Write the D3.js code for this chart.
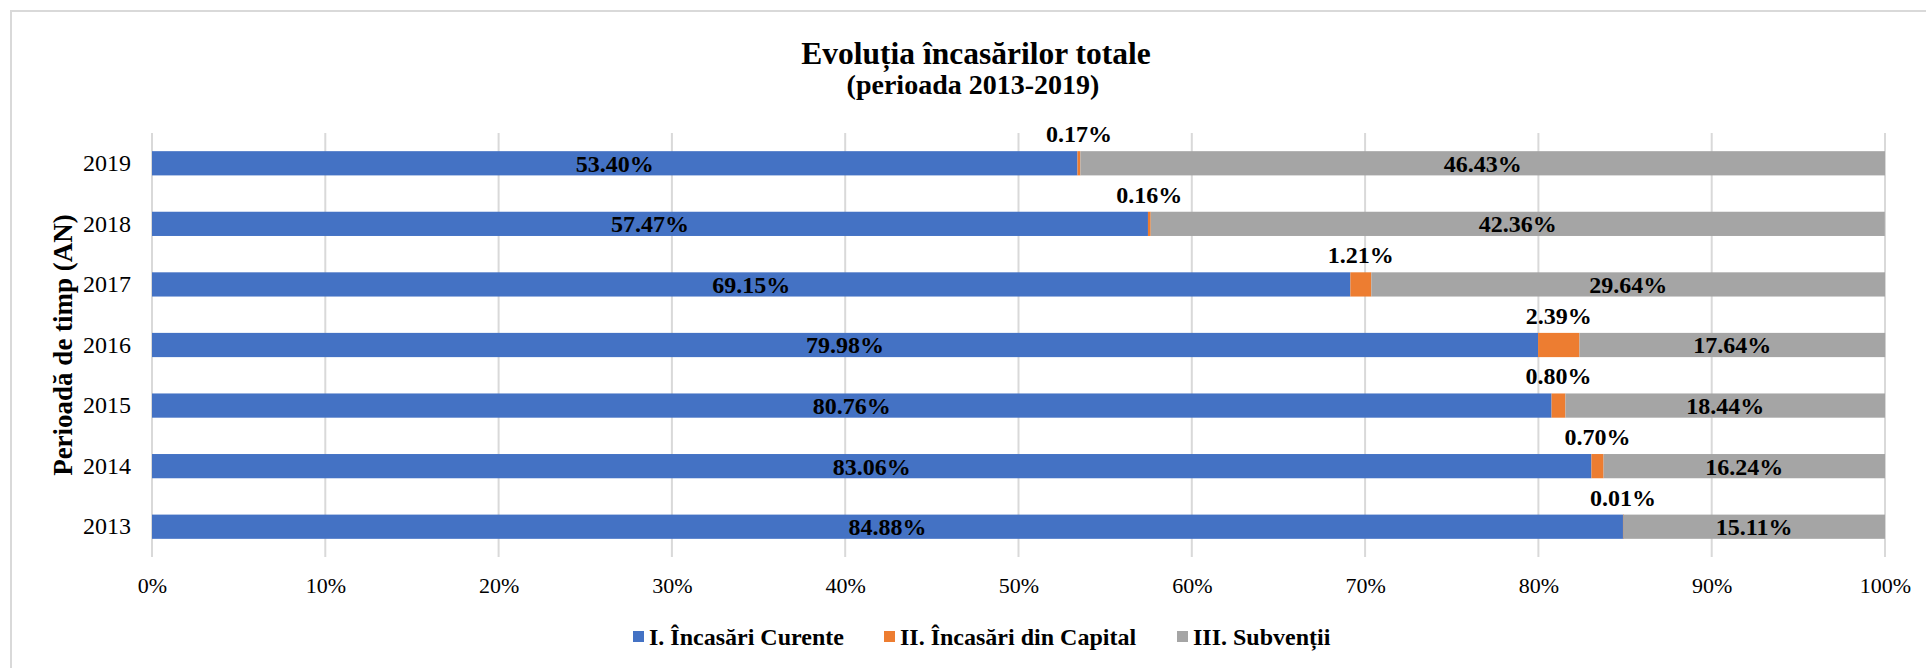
<!DOCTYPE html>
<html>
<head>
<meta charset="utf-8">
<script src="https://cdn.jsdelivr.net/npm/d3@7"></script>
<style>
  body { margin: 0; background: #fff; }
  text { font-family: "Liberation Serif", "Times New Roman", serif; }
</style>
</head>
<body>
<div id="chart"></div>
<script>
// data (percent of total receipts)
var years = ["2013", "2014", "2015", "2016", "2017", "2018", "2019"];
var curente = [84.88, 83.06, 80.76, 79.98, 69.15, 57.47, 53.40];
var capital = [0.01, 0.70, 0.80, 2.39, 1.21, 0.16, 0.17];
var subventii = [15.11, 16.24, 18.44, 17.64, 29.64, 42.36, 46.43];
var seriesNames = ["I. Încasări Curente", "II. Încasări din Capital", "III. Subvenții"];
var xTicks = [0, 10, 20, 30, 40, 50, 60, 70, 80, 90, 100];

var colors = ["#4472C4", "#ED7D31", "#A5A5A5"];

var W = 1926, H = 668;
var margin = { top: 133, right: 41, bottom: 111, left: 152 },
    width = W - margin.left - margin.right,
    height = H - margin.top - margin.bottom;

var svg = d3.select("#chart")
    .append("svg")
    .attr("width", W)
    .attr("height", H);

// chart frame
svg.append("rect")
    .attr("x", 11).attr("y", 11)
    .attr("width", W + 20).attr("height", H + 20)
    .attr("fill", "none")
    .attr("stroke", "#D9D9D9")
    .attr("stroke-width", 2);

var g = svg.append("g")
    .attr("transform", "translate(" + margin.left + "," + margin.top + ")");

var rows = years.map(function (y, i) {
    return { year: y, values: [curente[i], capital[i], subventii[i]] };
});

var x = d3.scaleLinear().domain([0, 100]).range([0, width]);
var y = d3.scaleBand()
    .domain(years.slice().reverse())
    .range([0, height])
    .paddingInner(0.6)
    .paddingOuter(0.3);

// gridlines
g.selectAll(".grid")
    .data(xTicks)
    .enter().append("line")
    .attr("x1", function (d) { return x(d); })
    .attr("x2", function (d) { return x(d); })
    .attr("y1", 0).attr("y2", height)
    .attr("stroke", "#D9D9D9")
    .attr("stroke-width", 2);

// x axis labels
var xAxis = g.append("g")
    .attr("transform", "translate(0," + height + ")")
    .call(d3.axisBottom(x).tickValues(xTicks).tickSize(0).tickPadding(20)
        .tickFormat(function (d) { return d + "%"; }));
xAxis.select(".domain").remove();
xAxis.selectAll("text")
    .attr("font-size", 22)
    .attr("fill", "#000")
    .style("font-family", "'Liberation Serif', serif");

// y axis labels
var yAxis = g.append("g")
    .call(d3.axisLeft(y).tickSize(0).tickPadding(21));
yAxis.select(".domain").remove();
yAxis.selectAll("text")
    .attr("font-size", 24)
    .attr("fill", "#000")
    .style("font-family", "'Liberation Serif', serif");

// stacked segments
rows.forEach(function (r) {
    var acc = 0;
    r.segs = r.values.map(function (v, k) {
        var s = { k: k, x0: acc, x1: acc + v, v: v, year: r.year };
        acc += v;
        return s;
    });
});

var rowG = g.selectAll(".row")
    .data(rows)
    .enter().append("g")
    .attr("transform", function (d) { return "translate(0," + y(d.year) + ")"; });

rowG.selectAll("rect")
    .data(function (d) { return d.segs; })
    .enter().append("rect")
    .attr("x", function (d) { return x(d.x0); })
    .attr("width", function (d) { return Math.max(x(d.x1) - x(d.x0), 1); })
    .attr("y", 0)
    .attr("height", y.bandwidth())
    .attr("fill", function (d) { return colors[d.k]; });

// labels
rowG.selectAll(".lbl")
    .data(function (d) { return d.segs; })
    .enter().append("text")
    .attr("x", function (d) { return x((d.x0 + d.x1) / 2); })
    .attr("y", function (d) { return d.k === 1 ? -9 : y.bandwidth() / 2; })
    .attr("dy", function (d) { return d.k === 1 ? 0 : "0.35em"; })
    .attr("text-anchor", "middle")
    .attr("font-size", 24)
    .attr("font-weight", "bold")
    .attr("fill", "#000")
    .text(function (d) { return d.v.toFixed(2) + "%"; });

// title
svg.append("text")
    .attr("x", 976).attr("y", 64)
    .attr("text-anchor", "middle")
    .attr("font-size", 31.5)
    .attr("font-weight", "bold")
    .text("Evoluția încasărilor totale");
svg.append("text")
    .attr("x", 973).attr("y", 94)
    .attr("text-anchor", "middle")
    .attr("font-size", 28)
    .attr("font-weight", "bold")
    .text("(perioada 2013-2019)");

// y axis title
svg.append("text")
    .attr("transform", "translate(72," + (margin.top + height / 2) + ") rotate(-90)")
    .attr("text-anchor", "middle")
    .attr("font-size", 27)
    .attr("font-weight", "bold")
    .text("Perioadă de timp (AN)");

// legend
var legendX = [633, 884, 1177];
var leg = svg.selectAll(".leg")
    .data(seriesNames)
    .enter().append("g")
    .attr("transform", function (d, i) { return "translate(" + legendX[i] + ",637)"; });
leg.append("rect")
    .attr("x", 0).attr("y", -6)
    .attr("width", 11).attr("height", 11)
    .attr("fill", function (d, i) { return colors[i]; });
leg.append("text")
    .attr("x", 16).attr("dy", "0.35em")
    .attr("font-size", 24)
    .attr("font-weight", "bold")
    .text(function (d) { return d; });
</script>
</body>
</html>
